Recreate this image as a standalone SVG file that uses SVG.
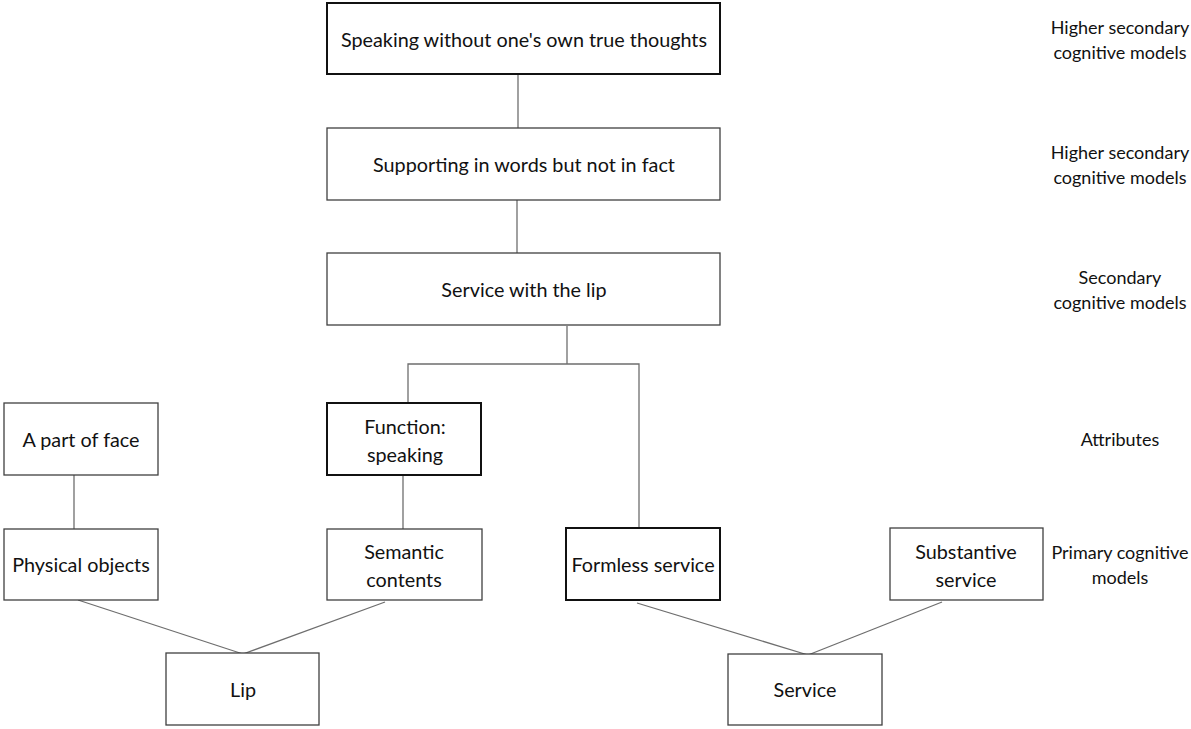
<svg xmlns="http://www.w3.org/2000/svg" width="1191" height="729" viewBox="0 0 1191 729">
<style>
.box{fill:#fff;stroke:#404040;stroke-width:1.3}
.bold{fill:#fff;stroke:#111;stroke-width:2}
.t{font-family:Lato,"Open Sans",sans-serif;font-size:19.8px;fill:#111;text-anchor:middle}
.l{font-family:Lato,"Open Sans",sans-serif;font-size:18px;fill:#111;text-anchor:middle}
.c line,.c polyline{stroke:#6e6e6e;stroke-width:1.3;fill:none}
</style>
<rect width="1191" height="729" fill="#fff"/>
<g class="c" id="connectors">
<line x1="518" y1="74" x2="518" y2="128"/>
<line x1="517" y1="200" x2="517" y2="253"/>
<line x1="567" y1="326" x2="567" y2="364"/>
<polyline points="408,403 408,364 639,364 639,528"/>
<line x1="74" y1="475" x2="74" y2="529"/>
<line x1="403" y1="475" x2="403" y2="529"/>
<line x1="78" y1="600" x2="243" y2="654"/>
<line x1="385" y1="602" x2="243" y2="654"/>
<line x1="637" y1="603" x2="808" y2="655"/>
<line x1="942" y1="602" x2="808" y2="655"/>
</g>
<g id="n1"><rect class="bold" x="327" y="3" width="393" height="71"/><text class="t" x="524" y="47">Speaking without one's own true thoughts</text></g>
<g id="n2"><rect class="box" x="327" y="128" width="393" height="72"/><text class="t" x="524" y="172">Supporting in words but not in fact</text></g>
<g id="n3"><rect class="box" x="327" y="253" width="393" height="72"/><text class="t" x="524" y="297">Service with the lip</text></g>
<g id="n4"><rect class="box" x="4" y="403" width="154" height="72"/><text class="t" x="81" y="447">A part of face</text></g>
<g id="n5"><rect class="bold" x="327" y="403" width="154" height="72"/><text class="t" x="405" y="434">Function:</text><text class="t" x="405" y="462">speaking</text></g>
<g id="n6"><rect class="box" x="4" y="529" width="154" height="71"/><text class="t" x="81" y="572">Physical objects</text></g>
<g id="n7"><rect class="box" x="327" y="529" width="155" height="71"/><text class="t" x="404" y="559">Semantic</text><text class="t" x="404" y="587">contents</text></g>
<g id="n8"><rect class="bold" x="566" y="528" width="154" height="72"/><text class="t" x="643" y="572">Formless service</text></g>
<g id="n9"><rect class="box" x="890" y="528" width="153" height="72"/><text class="t" x="966" y="559">Substantive</text><text class="t" x="966" y="587">service</text></g>
<g id="n10"><rect class="box" x="166" y="653" width="153" height="72"/><text class="t" x="243" y="697">Lip</text></g>
<g id="n11"><rect class="box" x="728" y="654" width="154" height="71"/><text class="t" x="805" y="697">Service</text></g>
<g id="labels">
<text class="l" x="1120" y="34">Higher secondary</text><text class="l" x="1120" y="59">cognitive models</text>
<text class="l" x="1120" y="159">Higher secondary</text><text class="l" x="1120" y="184">cognitive models</text>
<text class="l" x="1120" y="284">Secondary</text><text class="l" x="1120" y="309">cognitive models</text>
<text class="l" x="1120" y="446">Attributes</text>
<text class="l" x="1120" y="559">Primary cognitive</text><text class="l" x="1120" y="584">models</text>
</g>
</svg>
